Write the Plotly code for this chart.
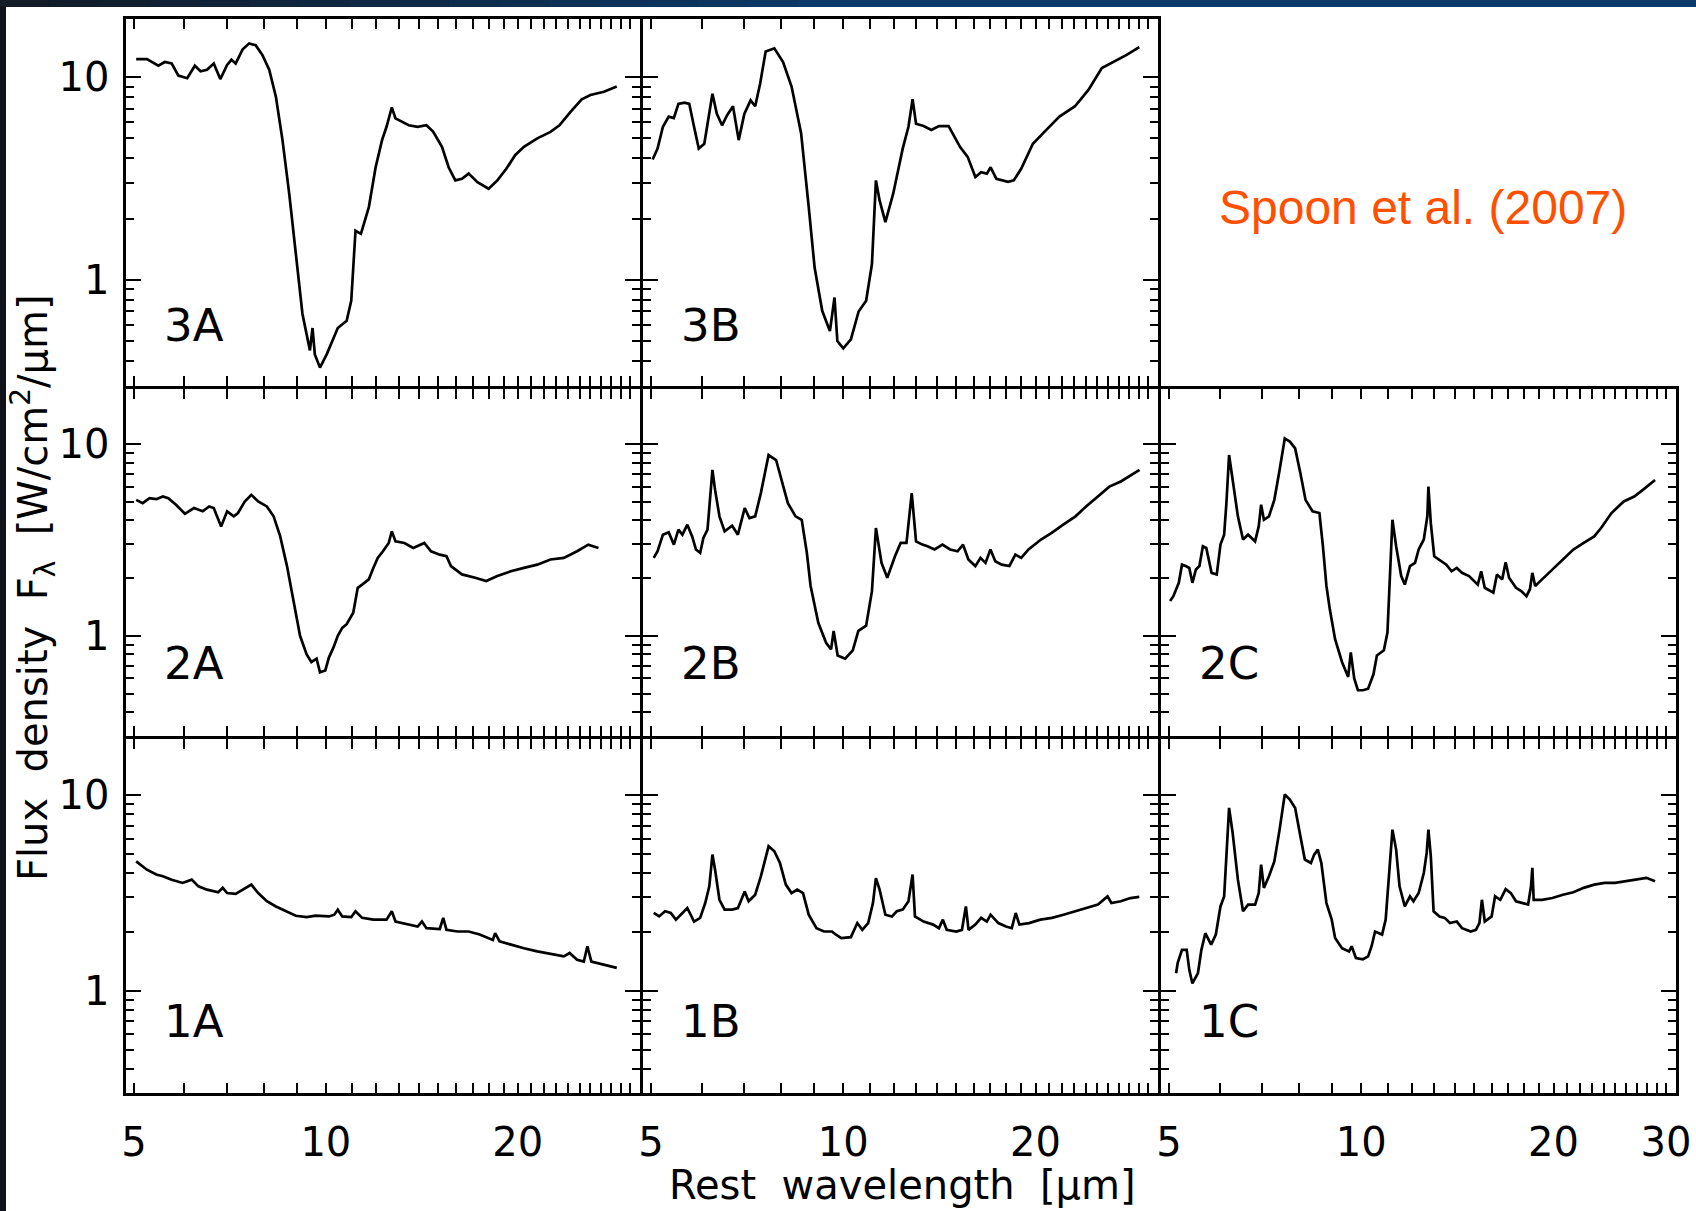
import math
import plotly.graph_objects as go

# ---------------- data: rest wavelength [micron] and flux density ----------------
wl_3A = [5.04, 5.24, 5.46, 5.59, 5.73, 5.87, 6.06, 6.23, 6.36, 6.51,
         6.67, 6.83, 7.00, 7.11, 7.22, 7.40, 7.58, 7.76, 7.95, 8.15,
         8.35, 8.55, 8.76, 8.97, 9.19, 9.44, 9.53, 9.61, 9.79, 10.03,
         10.44, 10.78, 10.96, 11.13, 11.35, 11.68, 11.97, 12.25, 12.45, 12.69,
         12.86, 13.49, 13.93, 14.38, 14.73, 15.21, 15.58, 15.96, 16.35, 16.75,
         17.29, 18.0, 18.58, 19.19, 19.81, 20.45, 21.46, 22.51, 23.25, 24.2,
         25.2, 26.0, 27.3, 28.6]
fd_3A = [12.3, 12.3, 11.4, 11.9, 11.7, 10.2, 9.9, 11.4, 10.7, 10.9,
         11.7, 9.8, 11.5, 12.2, 11.7, 13.7, 14.7, 14.4, 12.9, 10.9,
         8.0, 4.9, 2.67, 1.35, 0.68, 0.45, 0.58, 0.43, 0.37, 0.43,
         0.58, 0.63, 0.79, 1.75, 1.69, 2.29, 3.6, 4.9, 5.7, 7.1,
         6.27, 5.8, 5.7, 5.8, 5.4, 4.54, 3.6, 3.1, 3.16, 3.35,
         3.04, 2.82, 3.1, 3.54, 4.13, 4.54, 5.0, 5.38, 5.8, 6.76,
         7.78, 8.18, 8.49, 9.0]

wl_3B = [5.03, 5.12, 5.22, 5.33, 5.43, 5.52, 5.64, 5.74, 5.84, 5.94,
         6.06, 6.15, 6.24, 6.34, 6.46, 6.58, 6.72, 6.86, 7.0, 7.16,
         7.28, 7.41, 7.56, 7.8, 8.05, 8.3, 8.59, 8.83, 9.02, 9.27,
         9.53, 9.69, 9.79, 10.0, 10.28, 10.57, 10.86, 11.09, 11.25, 11.4,
         11.64, 11.97, 12.39, 12.65, 12.84, 13.0, 13.36, 13.74, 14.12, 14.62,
         15.24, 15.66, 16.1, 16.44, 16.78, 17.01, 17.37, 18.11, 18.49, 19.0,
         19.81, 20.65, 21.8, 23.06, 24.2, 25.4, 26.47, 27.78, 29.07]
fd_3B = [3.93, 4.45, 5.7, 6.4, 6.3, 7.4, 7.5, 7.4, 5.7, 4.45,
         4.7, 6.2, 8.3, 6.6, 5.8, 6.5, 7.2, 4.9, 6.6, 7.7,
         7.2, 9.3, 13.4, 13.9, 11.9, 9.0, 5.3, 2.29, 1.15, 0.705,
         0.56, 0.82, 0.5, 0.46, 0.51, 0.7, 0.79, 1.2, 3.1, 2.47,
         1.93, 2.66, 4.45, 5.7, 7.8, 5.9, 5.75, 5.5, 5.75, 5.75,
         4.53, 4.05, 3.22, 3.4, 3.35, 3.6, 3.16, 3.05, 3.1, 3.55,
         4.7, 5.38, 6.4, 7.2, 8.67, 11.1, 11.9, 12.9, 14.1]

wl_2A = [5.04, 5.16, 5.29, 5.42, 5.55, 5.66, 5.82, 6.01, 6.21, 6.41,
         6.56, 6.67, 6.85, 7.0, 7.17, 7.28, 7.46, 7.64, 7.83, 8.08,
         8.28, 8.48, 8.69, 8.9, 9.11, 9.33, 9.49, 9.67, 9.79, 9.98,
         10.11, 10.28, 10.44, 10.61, 10.78, 11.04, 11.22, 11.4, 11.68, 11.87,
         12.06, 12.29, 12.55, 12.69, 12.86, 13.28, 13.71, 14.27, 14.62, 15.09,
         15.46, 15.71, 16.35, 17.15, 17.85, 18.58, 19.5, 20.45, 21.46, 22.51,
         23.62, 24.78, 25.8, 26.77]
fd_2A = [5.12, 4.92, 5.22, 5.16, 5.33, 5.22, 4.83, 4.33, 4.64, 4.46,
         4.73, 4.64, 3.72, 4.46, 4.2, 4.37, 5.02, 5.44, 5.02, 4.73,
         4.2, 3.3, 2.31, 1.49, 1.0, 0.80, 0.73, 0.76, 0.645, 0.66,
         0.77, 0.87, 1.0, 1.10, 1.15, 1.32, 1.78, 1.85, 1.97, 2.26,
         2.55, 2.76, 3.05, 3.51, 3.11, 3.05, 2.87, 3.05, 2.76, 2.65,
         2.6, 2.31, 2.09, 2.01, 1.93, 2.05, 2.17, 2.26, 2.35, 2.5,
         2.55, 2.76, 2.99, 2.87]

wl_2B = [5.05, 5.12, 5.22, 5.33, 5.43, 5.52, 5.6, 5.70, 5.8, 5.88,
         5.97, 6.04, 6.13, 6.24, 6.3, 6.4, 6.52, 6.7, 6.84, 7.01,
         7.13, 7.28, 7.43, 7.64, 7.85, 8.02, 8.19, 8.42, 8.61, 8.77,
         8.89, 9.14, 9.4, 9.57, 9.66, 9.8, 10.07, 10.35, 10.56, 10.86,
         11.09, 11.25, 11.48, 11.72, 12.05, 12.3, 12.56, 12.8, 13.0, 13.3,
         13.55, 13.9, 14.3, 14.7, 15.1, 15.4, 15.7, 16.1, 16.4, 16.7,
         17.0, 17.3, 17.7, 18.2, 18.6, 19.0, 19.5, 20.4, 21.2, 22.1,
         23.1, 24.0, 25.0, 26.1, 27.2, 28.2, 29.1]
fd_2B = [2.55, 2.76, 3.37, 3.47, 2.99, 3.58, 3.37, 3.8, 3.3, 2.82,
         2.71, 3.24, 3.58, 7.33, 5.77, 4.2, 3.51, 3.75, 3.37, 4.64,
         4.11, 4.2, 5.55, 8.77, 8.26, 6.38, 4.92, 4.2, 4.03, 2.71,
         1.82, 1.17, 0.92, 0.85, 1.06, 0.79, 0.76, 0.84, 1.06, 1.13,
         1.71, 3.65, 2.4, 2.01, 2.6, 3.05, 3.05, 5.55, 3.11, 2.99,
         2.93, 2.82, 2.99, 2.82, 2.76, 2.99, 2.5, 2.31, 2.55, 2.4,
         2.82, 2.45, 2.35, 2.31, 2.65, 2.55, 2.82, 3.18, 3.44, 3.8,
         4.2, 4.73, 5.33, 6.0, 6.38, 6.9, 7.33]

wl_2C = [5.02, 5.08, 5.18, 5.24, 5.31, 5.38, 5.44, 5.51, 5.58, 5.65,
         5.72, 5.83, 5.94, 6.02, 6.1, 6.15, 6.21, 6.29, 6.41, 6.53,
         6.65, 6.82, 6.91, 6.97, 7.04, 7.17, 7.31, 7.45, 7.59, 7.73,
         7.88, 8.03, 8.18, 8.39, 8.6, 8.71, 8.82, 8.93, 9.1, 9.33,
         9.54, 9.63, 9.75, 9.88, 10.06, 10.25, 10.45, 10.58, 10.85, 10.99,
         11.12, 11.19, 11.34, 11.55, 11.7, 11.92, 12.14, 12.3, 12.53, 12.69,
         12.74, 12.85, 13.01, 13.34, 13.59, 13.85, 14.11, 14.38, 14.75, 15.22,
         15.41, 15.61, 16.1, 16.31, 16.62, 16.83, 17.04, 17.47, 17.8, 18.14,
         18.37, 18.53, 18.72, 19.19, 19.92, 20.69, 21.48, 22.3, 23.16, 23.74,
         24.65, 25.76, 26.75, 27.6, 28.84]
fd_2C = [1.52, 1.61, 1.89, 2.35, 2.31, 2.26, 1.89, 2.22, 2.31, 2.93,
         2.87, 2.13, 2.09, 2.99, 3.37, 4.92, 8.77, 6.5, 4.2, 3.18,
         3.37, 3.11, 3.72, 4.83, 4.03, 4.2, 5.12, 7.33, 10.7, 10.3,
         9.5, 7.04, 5.12, 4.46, 4.37, 2.93, 1.82, 1.37, 0.96, 0.73,
         0.61, 0.82, 0.6, 0.52, 0.52, 0.53, 0.63, 0.79, 0.84, 1.04,
         2.6, 4.03, 2.93, 2.05, 1.85, 2.31, 2.4, 2.82, 3.18, 4.2,
         6.0, 3.87, 2.6, 2.45, 2.35, 2.17, 2.26, 2.13, 2.05, 1.85,
         2.17, 1.78, 1.68, 2.09, 1.97, 2.42, 2.01, 1.78, 1.71, 1.61,
         1.75, 2.13, 1.82, 1.97, 2.22, 2.5, 2.82, 3.05, 3.3, 3.65,
         4.37, 5.02, 5.33, 5.77, 6.5]

wl_1A = [5.04, 5.24, 5.42, 5.55, 5.73, 5.96, 6.16, 6.31, 6.51, 6.78,
         6.89, 7.0, 7.22, 7.46, 7.64, 7.83, 8.08, 8.35, 8.69, 8.97,
         9.33, 9.64, 10.11, 10.31, 10.44, 10.61, 10.96, 11.13, 11.4, 11.87,
         12.45, 12.69, 12.86, 13.49, 13.93, 14.15, 14.38, 15.09, 15.28, 15.46,
         16.09, 16.75, 17.43, 18.28, 18.43, 18.73, 19.5, 20.45, 21.46, 22.51,
         23.62, 24.12, 24.78, 25.39, 25.72, 26.09, 27.28, 28.6]
fd_1A = [4.59, 4.16, 3.93, 3.85, 3.7, 3.56, 3.7, 3.42, 3.29, 3.19,
         3.36, 3.16, 3.13, 3.32, 3.49, 3.16, 2.87, 2.7, 2.55, 2.42,
         2.38, 2.42, 2.4, 2.45, 2.6, 2.4, 2.38, 2.55, 2.36, 2.31,
         2.31, 2.55, 2.26, 2.18, 2.13, 2.26, 2.09, 2.07, 2.36, 2.05,
         2.01, 2.01, 1.94, 1.82, 1.97, 1.79, 1.72, 1.65, 1.59, 1.55,
         1.5, 1.56, 1.44, 1.41, 1.69, 1.41, 1.36, 1.31]

wl_1B = [5.05, 5.15, 5.26, 5.37, 5.47, 5.56, 5.7, 5.84, 5.97, 6.08,
         6.17, 6.24, 6.3, 6.4, 6.52, 6.7, 6.84, 7.01, 7.11, 7.28,
         7.43, 7.64, 7.8, 7.96, 8.13, 8.3, 8.47, 8.65, 8.83, 9.08,
         9.33, 9.6, 9.73, 9.93, 10.28, 10.52, 10.71, 10.94, 11.13, 11.25,
         11.4, 11.64, 11.92, 12.13, 12.39, 12.65, 12.84, 12.95, 13.36, 13.83,
         14.12, 14.32, 14.52, 15.03, 15.34, 15.56, 15.71, 16.1, 16.44, 16.78,
         17.01, 17.49, 17.98, 18.36, 18.62, 18.87, 19.54, 20.35, 21.22, 22.12,
         23.06, 24.03, 25.05, 25.93, 26.29, 27.2, 28.16, 29.07]
fd_1B = [2.5, 2.4, 2.55, 2.5, 2.31, 2.45, 2.65, 2.26, 2.36, 2.81,
         3.42, 4.97, 4.16, 2.92, 2.6, 2.6, 2.65, 3.22, 2.87, 3.1,
         3.85, 5.48, 5.17, 4.5, 3.49, 3.16, 3.29, 3.16, 2.45, 2.09,
         2.01, 2.01, 1.94, 1.86, 1.88, 2.22, 2.05, 2.22, 2.81, 3.77,
         3.29, 2.45, 2.4, 2.55, 2.6, 2.87, 3.93, 2.4, 2.26, 2.18,
         2.09, 2.31, 2.05, 2.01, 2.05, 2.7, 2.05, 2.18, 2.36, 2.26,
         2.45, 2.22, 2.13, 2.09, 2.5, 2.18, 2.22, 2.31, 2.36, 2.45,
         2.55, 2.65, 2.76, 3.04, 2.81, 2.87, 2.98, 3.02]

wl_1C = [5.13, 5.16, 5.24, 5.33, 5.38, 5.44, 5.55, 5.62, 5.7, 5.82,
         5.92, 6.02, 6.1, 6.15, 6.21, 6.29, 6.41, 6.53, 6.65, 6.82,
         6.91, 6.97, 7.04, 7.17, 7.31, 7.45, 7.59, 7.73, 7.88, 8.03,
         8.16, 8.34, 8.44, 8.55, 8.66, 8.82, 8.99, 9.1, 9.33, 9.57,
         9.66, 9.81, 10.06, 10.25, 10.38, 10.51, 10.78, 10.92, 11.05, 11.19,
         11.34, 11.48, 11.7, 11.92, 12.07, 12.3, 12.53, 12.66, 12.74, 12.85,
         12.98, 13.26, 13.51, 13.77, 14.11, 14.38, 14.84, 15.12, 15.31, 15.45,
         15.61, 16.0, 16.2, 16.51, 16.83, 17.15, 17.47, 17.91, 18.25, 18.44,
         18.53, 18.62, 19.19, 19.92, 20.69, 21.48, 22.3, 23.16, 24.05, 24.97,
         25.93, 26.92, 27.95, 28.84]
fd_1C = [1.23, 1.39, 1.62, 1.62, 1.28, 1.09, 1.23, 1.62, 1.97, 1.72,
         1.94, 2.7, 3.04, 4.78, 8.61, 6.42, 3.7, 2.55, 2.76, 2.76,
         3.16, 4.42, 3.36, 3.85, 4.59, 6.67, 10.08, 9.5, 8.61, 6.17,
         4.69, 4.5, 4.97, 5.27, 4.5, 2.81, 2.31, 1.86, 1.65, 1.59,
         1.69, 1.47, 1.45, 1.5, 1.69, 2.01, 1.94, 2.31, 3.77, 6.67,
         5.27, 3.42, 2.7, 3.04, 2.87, 3.16, 4.0, 5.07, 6.67, 4.87,
         2.55, 2.4, 2.36, 2.22, 2.26, 2.09, 2.01, 2.05, 2.22, 2.92,
         2.26, 2.4, 3.04, 2.92, 3.31, 3.16, 2.87, 2.81, 2.76, 3.42,
         4.25, 2.92, 2.92, 2.98, 3.1, 3.19, 3.36, 3.49, 3.56, 3.56,
         3.63, 3.7, 3.78, 3.63]

panel_ids = ["3A", "3B", "2A", "2B", "2C", "1A", "1B", "1C"]
spectra = {
    "3A": (wl_3A, fd_3A), "3B": (wl_3B, fd_3B),
    "2A": (wl_2A, fd_2A), "2B": (wl_2B, fd_2B), "2C": (wl_2C, fd_2C),
    "1A": (wl_1A, fd_1A), "1B": (wl_1B, fd_1B), "1C": (wl_1C, fd_1C),
}
x_tick_values = list(range(5, 31))
x_labels_AB = {5: "5", 10: "10", 20: "20"}
x_labels_C = {5: "5", 10: "10", 20: "20", 30: "30"}
y_major_ticks = [1, 10]
y_major_labels = ["1", "10"]
y_minor_ticks = [0.3, 0.4, 0.5, 0.6, 0.7, 0.8, 0.9, 2, 3, 4, 5, 6, 7, 8, 9, 20]
x_title = "Rest\u00a0\u00a0wavelength\u00a0\u00a0[\u03bcm]"
y_title = "Flux\u00a0\u00a0density\u00a0\u00a0F<sub>\u03bb</sub>\u00a0\u00a0[W/cm<sup>2</sup>/\u03bcm]"
credit = "Spoon et al. (2007)"

# ---------------- layout geometry (pixels) ----------------
W, H = 1696, 1211
LW = 3  # axis line width; shared borders are drawn as one line
COL_EDGES = [124, 641, 1159, 1677]
ROW_EDGES = [17, 387, 737, 1094]
COLS = {c: (COL_EDGES[k] + LW / 2, COL_EDGES[k + 1] - LW / 2) for k, c in enumerate("ABC")}
ROWS = {r: (ROW_EDGES[k] + LW / 2, ROW_EDGES[k + 1] - LW / 2) for k, r in enumerate("321")}
XRANGE = [0.6857, 1.492]
YRANGE = [-0.52, 1.29]
LABEL_WL = 6.2
LABEL_FLUX = {"3": 0.60, "2": 0.715, "1": 0.70}
FONT = "DejaVu Sans"


def fx(px):
    return px / W


def fy(py):
    return 1 - py / H


fig = go.Figure()
layout = dict(
    width=W, height=H,
    margin=dict(l=0, r=0, t=0, b=0, autoexpand=False),
    paper_bgcolor="white", plot_bgcolor="white",
    showlegend=False, hovermode=False,
    font=dict(family=FONT, color="black"),
)
annotations = []

for i, pid in enumerate(panel_ids, start=1):
    row, col = pid[0], pid[1]
    xid = "x" if i == 1 else f"x{i}"
    yid = "y" if i == 1 else f"y{i}"
    xkey = "xaxis" if i == 1 else f"xaxis{i}"
    ykey = "yaxis" if i == 1 else f"yaxis{i}"
    c0, c1 = COLS[col]
    r0, r1 = ROWS[row]
    labels = x_labels_C if col == "C" else x_labels_AB
    wl, fd = spectra[pid]
    fig.add_trace(go.Scatter(x=wl, y=fd, mode="lines",
                             line=dict(color="black", width=2.7),
                             xaxis=xid, yaxis=yid, hoverinfo="skip"))
    layout[xkey] = dict(
        domain=[fx(c0), fx(c1)], anchor=yid, type="log", range=XRANGE,
        showline=True, linecolor="black", linewidth=LW, mirror="ticks",
        ticks="inside", ticklen=10, tickwidth=2, tickcolor="black",
        tickmode="array", tickvals=x_tick_values,
        ticktext=[labels.get(v, "") for v in x_tick_values],
        showticklabels=(row == "1"),
        tickfont=dict(family=FONT, size=40, color="black"),
        ticklabelstandoff=12, automargin=False,
        showgrid=False, zeroline=False, fixedrange=True,
    )
    layout[ykey] = dict(
        domain=[fy(r1), fy(r0)], anchor=xid, type="log", range=YRANGE,
        showline=True, linecolor="black", linewidth=LW, mirror="ticks",
        ticks="inside", ticklen=15, tickwidth=2, tickcolor="black",
        tickmode="array", tickvals=y_major_ticks, ticktext=y_major_labels,
        minor=dict(tickmode="array", tickvals=y_minor_ticks, ticks="inside",
                   ticklen=8, tickwidth=2, tickcolor="black", showgrid=False),
        showticklabels=(col == "A"),
        tickfont=dict(family=FONT, size=40, color="black"),
        ticklabelstandoff=5, automargin=False,
        showgrid=False, zeroline=False, fixedrange=True,
    )
    annotations.append(dict(
        xref=xid, yref=yid, x=math.log10(LABEL_WL), y=math.log10(LABEL_FLUX[row]),
        text=pid, showarrow=False, xanchor="center", yanchor="middle",
        font=dict(family=FONT, size=45, color="black")))

annotations.append(dict(
    xref="paper", yref="paper", x=fx(902), y=fy(1185), text=x_title,
    showarrow=False, xanchor="center", yanchor="middle",
    font=dict(family=FONT, size=40, color="black")))
annotations.append(dict(
    xref="paper", yref="paper", x=fx(33), y=fy(588), text=y_title,
    textangle=-90, showarrow=False, xanchor="center", yanchor="middle",
    font=dict(family=FONT, size=40, color="black")))
annotations.append(dict(
    xref="paper", yref="paper", x=fx(1423), y=fy(208), text=credit,
    showarrow=False, xanchor="center", yanchor="middle",
    font=dict(family="Liberation Sans", size=48, color="#FF5000")))
layout["annotations"] = annotations

# dark slide frame: left strip and a top strip shading from charcoal to navy
shapes = [dict(type="rect", xref="paper", yref="paper", x0=0, x1=fx(6),
               y0=0, y1=1, fillcolor="rgb(16,20,26)", line=dict(width=0),
               layer="above")]
n_seg = 34
c_start = (18, 26, 36)
c_end = (11, 58, 107)
for k in range(n_seg):
    x0p = W * k / n_seg
    x1p = W * (k + 1) / n_seg + 1
    t = min(1.0, (x0p + x1p) / 2 / 850.0)
    col_rgb = tuple(int(round(a + (b - a) * t)) for a, b in zip(c_start, c_end))
    shapes.append(dict(type="rect", xref="paper", yref="paper",
                       x0=fx(x0p), x1=min(1.0, fx(x1p)), y0=fy(7), y1=1,
                       fillcolor="rgb(%d,%d,%d)" % col_rgb, line=dict(width=0),
                       layer="above"))
layout["shapes"] = shapes

fig.update_layout(**layout)
fig.write_html(
    "out.html",
    config={"displayModeBar": False, "staticPlot": True},
    post_script="document.body.style.margin='0';document.body.style.overflow='hidden';",
)
